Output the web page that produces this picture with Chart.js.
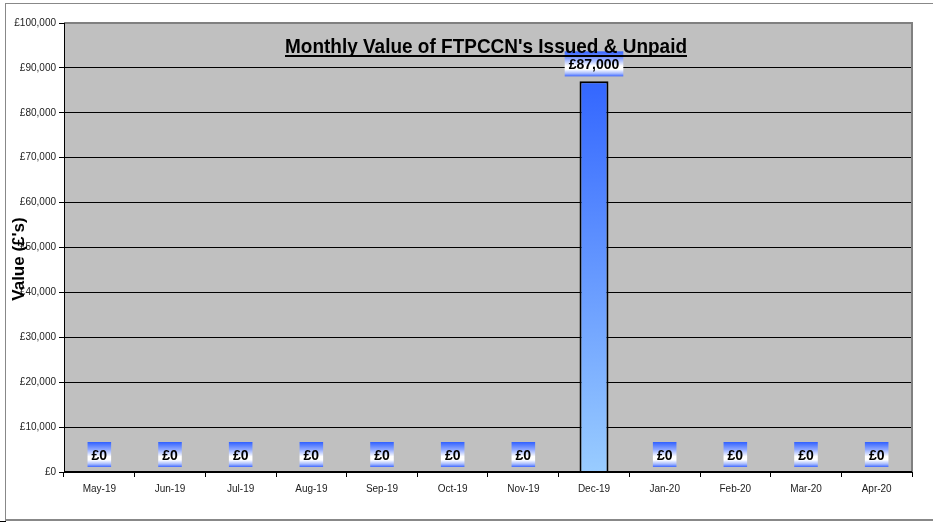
<!DOCTYPE html>
<html><head><meta charset="utf-8">
<script src="https://cdn.jsdelivr.net/npm/chart.js@4/dist/chart.umd.min.js"></script>
<style>
html,body{margin:0;padding:0;background:#fff;}
#wrap{position:relative;width:933px;height:525px;overflow:hidden;}
#frame{position:absolute;left:5px;top:3px;width:940px;height:515px;border-left:1px solid #888;border-top:1px solid #888;border-bottom:2px solid #888;}
#tick{position:absolute;left:0;top:521px;width:6px;height:1px;background:#000;}
canvas{position:absolute;left:0;top:0;}
</style></head>
<body><div id="wrap"><div id="frame"></div><div id="tick"></div><canvas id="c" width="933" height="525"></canvas></div>
<script>
const categories = ['May-19','Jun-19','Jul-19','Aug-19','Sep-19','Oct-19','Nov-19','Dec-19','Jan-20','Feb-20','Mar-20','Apr-20'];
const values = [0,0,0,0,0,0,0,87000,0,0,0,0];
const chartTitle = "Monthly Value of FTPCCN's Issued & Unpaid";
const yAxisTitle = "Value (£'s)";
const yMin = 0, yMax = 100000, yStep = 10000;

const fmt = v => '£' + Number(v).toLocaleString('en-GB');

const decor = {
  id: 'decor',
  beforeDraw(chart) {
    const {ctx, chartArea: a} = chart;
    ctx.save();
    ctx.fillStyle = '#C0C0C0';
    ctx.fillRect(a.left, a.top, a.right - a.left, a.bottom - a.top);
    ctx.restore();
  },
  afterDatasetsDraw(chart) {
    const {ctx, chartArea: a} = chart;
    ctx.save();
    ctx.strokeStyle = '#808080';
    ctx.lineWidth = 2;
    ctx.beginPath();
    ctx.moveTo(a.left, a.top);
    ctx.lineTo(a.right, a.top);
    ctx.lineTo(a.right, a.bottom);
    ctx.stroke();
    ctx.strokeStyle = '#000';
    ctx.lineWidth = 2;
    ctx.beginPath();
    ctx.moveTo(a.left, a.bottom);
    ctx.lineTo(a.right, a.bottom);
    ctx.stroke();
    ctx.lineWidth = 1;
    ctx.beginPath();
    ctx.moveTo(a.left + 0.5, a.top);
    ctx.lineTo(a.left + 0.5, a.bottom);
    ctx.stroke();

    const meta = chart.getDatasetMeta(0);
    ctx.font = 'bold 14px "Liberation Sans", Arial, sans-serif';
    ctx.textAlign = 'center';
    ctx.textBaseline = 'middle';
    meta.data.forEach((bar, i) => {
      const txt = fmt(values[i]);
      const w = ctx.measureText(txt).width + 8;
      const h = 25;
      const cx = bar.x;
      const cy = bar.y - 17.5;
      const g = ctx.createLinearGradient(0, cy - h/2, 0, cy + h/2);
      g.addColorStop(0, '#3060ff');
      g.addColorStop(0.3, '#8fa8ff');
      g.addColorStop(0.58, '#ffffff');
      g.addColorStop(0.72, '#ffffff');
      g.addColorStop(0.88, '#a8bcff');
      g.addColorStop(1, '#4068ff');
      ctx.fillStyle = g;
      ctx.fillRect(cx - w/2, cy - h/2, w, h);
      ctx.fillStyle = '#000';
      ctx.fillText(txt, cx, cy + 1.5);
    });

    ctx.font = 'bold 21px "Liberation Sans", Arial, sans-serif';
    const tw = ctx.measureText(chartTitle).width;
    const target = 402;
    const sx = target / tw;
    const tcx = 486;
    ctx.save();
    ctx.translate(tcx - target/2, 53);
    ctx.scale(sx, 1);
    ctx.textAlign = 'left';
    ctx.textBaseline = 'alphabetic';
    ctx.fillStyle = '#000';
    ctx.fillText(chartTitle, 0, 0);
    ctx.restore();
    ctx.fillStyle = '#000';
    ctx.fillRect(tcx - target/2, 55, target, 2);

    ctx.save();
    ctx.translate(19, 259);
    ctx.rotate(-Math.PI/2);
    ctx.font = 'bold 17px "Liberation Sans", Arial, sans-serif';
    ctx.textAlign = 'center';
    ctx.textBaseline = 'middle';
    ctx.fillStyle = '#000';
    ctx.fillText(yAxisTitle, 0, 0);
    ctx.restore();
    ctx.restore();
  }
};

const ctx = document.getElementById('c').getContext('2d');
const grad = ctx.createLinearGradient(0, 81, 0, 472);
grad.addColorStop(0, '#3366ff');
grad.addColorStop(1, '#99ccff');

new Chart(ctx, {
  type: 'bar',
  data: {
    labels: categories,
    datasets: [{
      data: values,
      backgroundColor: grad,
      borderColor: '#000',
      borderWidth: 2,
      borderSkipped: 'bottom',
      categoryPercentage: 1,
      barPercentage: 0.41
    }]
  },
  options: {
    responsive: false,
    animation: false,
    devicePixelRatio: 1,
    layout: { padding: { left: 0, top: 23, right: 21, bottom: 0 } },
    plugins: { legend: { display: false }, tooltip: { enabled: false }, title: { display: false } },
    scales: {
      x: {
        afterFit(s) { s.height = 53; },
        grid: { display: true, drawOnChartArea: false, tickLength: 5, color: '#000', offset: true },
        border: { display: false },
        ticks: { color: '#222', font: { size: 10, family: '"Liberation Sans", Arial, sans-serif' }, padding: 6, maxRotation: 0, autoSkip: false }
      },
      y: {
        min: yMin, max: yMax,
        afterFit(s) { s.width = 64; },
        grid: { color: '#000', lineWidth: 1, tickLength: 5 },
        border: { display: false },
        ticks: { stepSize: yStep, callback: v => fmt(v), color: '#222', padding: 3, font: { size: 10, family: '"Liberation Sans", Arial, sans-serif' } }
      }
    }
  },
  plugins: [decor]
});
</script>
</body></html>
